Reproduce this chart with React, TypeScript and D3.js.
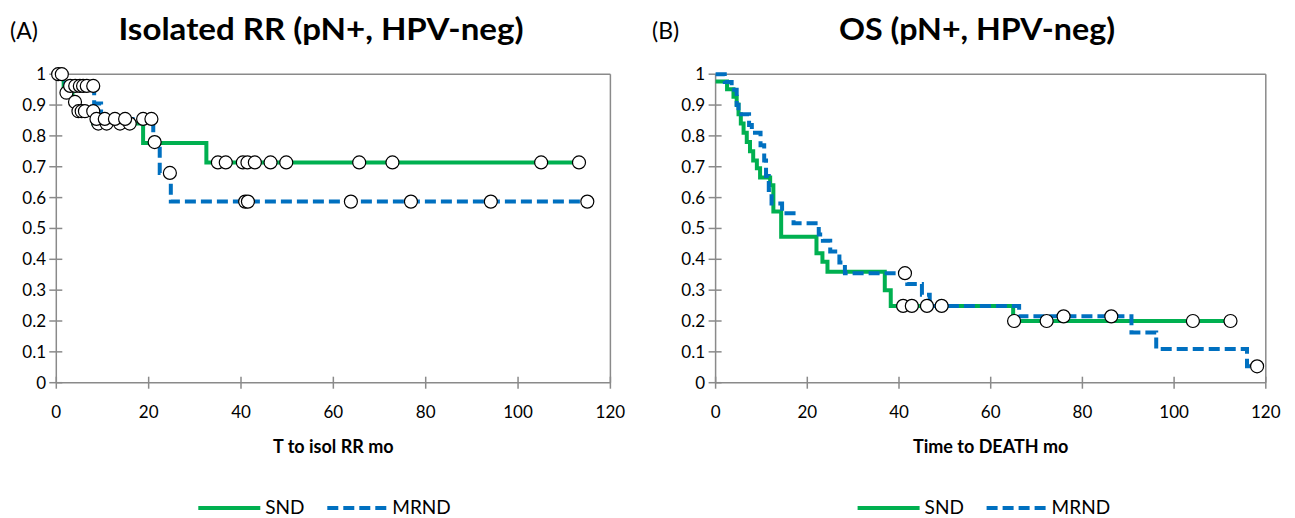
import React from "react";
import * as d3 from "d3";

// ---------- data ----------
const xTicks = [0, 20, 40, 60, 80, 100, 120];
const yTicks = [0, 0.1, 0.2, 0.3, 0.4, 0.5, 0.6, 0.7, 0.8, 0.9, 1];
const yTickLabels = ["0", "0.1", "0.2", "0.3", "0.4", "0.5", "0.6", "0.7", "0.8", "0.9", "1"];
const seriesNames = ["SND", "MRND"];

// Panel A: Isolated RR
const sndA_t = [0, 1.6, 3.5, 4.5, 8.0, 18.8, 32.5];
const sndA_s = [1, 0.94, 0.91, 0.88, 0.84, 0.777, 0.714];
const sndA_end = 113.2;
const sndA_ct = [0.4, 1.2, 2.2, 4.05, 4.8, 5.5, 6.2, 8.0, 9.1, 10.9, 13.8, 15.9, 35.0, 36.7, 40.4, 41.4, 43.0, 46.4, 49.8, 65.6, 72.8, 105.0, 113.2];
const sndA_cs = [1, 1, 0.94, 0.91, 0.88, 0.88, 0.88, 0.88, 0.84, 0.84, 0.84, 0.84, 0.714, 0.714, 0.714, 0.714, 0.714, 0.714, 0.714, 0.714, 0.714, 0.714, 0.714];

const mrndA_t = [0, 2.0, 8.2, 9.7, 21.0, 22.4, 24.8];
const mrndA_s = [1, 0.962, 0.905, 0.855, 0.78, 0.68, 0.587];
const mrndA_end = 115.0;
const mrndA_ct = [3.0, 4.1, 5.1, 5.8, 6.6, 8.0, 8.7, 10.5, 12.7, 14.9, 18.8, 20.6, 21.3, 24.6, 40.9, 41.5, 63.8, 76.8, 94.1, 115.0];
const mrndA_cs = [0.962, 0.962, 0.962, 0.962, 0.962, 0.962, 0.855, 0.855, 0.855, 0.855, 0.855, 0.855, 0.78, 0.68, 0.587, 0.587, 0.587, 0.587, 0.587, 0.587];

// Panel B: OS
const sndB_t = [0, 2.5, 3.9, 4.6, 5.0, 5.5, 6.1, 6.8, 7.5, 8.2, 9.0, 9.7, 11.9, 12.6, 14.3, 22.0, 23.3, 24.4, 36.9, 38.2, 64.9];
const sndB_s = [0.976, 0.951, 0.927, 0.902, 0.87, 0.84, 0.81, 0.78, 0.75, 0.72, 0.695, 0.665, 0.64, 0.555, 0.473, 0.42, 0.392, 0.36, 0.30, 0.249, 0.20];
const sndB_end = 112.3;
const sndB_ct = [40.9, 42.8, 46.1, 65.1, 72.2, 104.1, 112.3];
const sndB_cs = [0.249, 0.249, 0.249, 0.2, 0.2, 0.2, 0.2];

const mrndB_t = [0, 2.0, 3.5, 4.6, 5.0, 7.3, 7.9, 9.8, 10.6, 11.0, 11.6, 12.2, 14.5, 17.0, 22.5, 23.4, 25.0, 27.0, 28.2, 41.8, 45.0, 46.7, 66.2, 90.7, 96.1, 115.9];
const mrndB_s = [1, 0.975, 0.95, 0.9, 0.87, 0.835, 0.81, 0.77, 0.72, 0.67, 0.625, 0.581, 0.549, 0.517, 0.48, 0.46, 0.425, 0.39, 0.355, 0.32, 0.285, 0.249, 0.215, 0.163, 0.109, 0.053];
const mrndB_end = 118.1;
const mrndB_ct = [41.3, 49.3, 75.9, 86.3, 118.1];
const mrndB_cs = [0.355, 0.249, 0.215, 0.215, 0.053];

// ---------- styles ----------
const GREEN = "#00B050";
const BLUE = "#0070C0";
const AXIS = "#8a8a8a";
const FONT = "Lato, 'Open Sans', sans-serif";

const y = d3.scaleLinear().domain([0, 1]).range([382.7, 74.2]);

type Series = { t: number[]; s: number[]; end: number; ct: number[]; cs: number[] };

function kmPath(x: d3.ScaleLinear<number, number>, ser: Series) {
  const pts: [number, number][] = ser.t.map((t, i) => [t, ser.s[i]]);
  pts.push([ser.end, ser.s[ser.s.length - 1]]);
  const line = d3
    .line<[number, number]>()
    .x((d) => x(d[0]))
    .y((d) => y(d[1]))
    .curve(d3.curveStepAfter);
  return line(pts) || "";
}

function Panel(props: {
  x: d3.ScaleLinear<number, number>;
  letter: string;
  letterX: number;
  title: string;
  titleX: number;
  titleLen: number;
  xTitle: string;
  snd: Series;
  mrnd: Series;
  ylabelX: number;
}) {
  const { x, snd, mrnd } = props;
  const [x0, x1] = x.range();
  const yTop = y(1);
  const yBot = y(0);
  const legendBase = x0;
  return (
    <g>
      <text x={props.letterX} y={39} fontFamily={FONT} fontSize={23} fill="#000">
        {props.letter}
      </text>
      <text
        x={props.titleX}
        y={40}
        fontFamily={FONT}
        fontSize={31}
        fontWeight="bold"
        textAnchor="middle"
        fill="#000"
        textLength={props.titleLen}
        lengthAdjust="spacingAndGlyphs"
      >
        {props.title}
      </text>
      {/* plot frame */}
      <line x1={x0} x2={x1} y1={yTop} y2={yTop} stroke={AXIS} strokeWidth={1.5} />
      <line x1={x1} x2={x1} y1={yTop} y2={yBot} stroke={AXIS} strokeWidth={1.5} />
      {/* y axis */}
      <line x1={x0} x2={x0} y1={yTop} y2={yBot} stroke={AXIS} strokeWidth={1.5} />
      {yTicks.map((v, i) => (
        <g key={"y" + i}>
          <line x1={x0 - 7} x2={x0 + 6} y1={y(v)} y2={y(v)} stroke={AXIS} strokeWidth={1.5} />
          <text
            x={props.ylabelX}
            y={y(v) + 6}
            textAnchor="end"
            fontFamily={FONT}
            fontSize={17}
            fill="#000"
          >
            {yTickLabels[i]}
          </text>
        </g>
      ))}
      {/* x axis */}
      <line x1={x0} x2={x1} y1={yBot} y2={yBot} stroke={AXIS} strokeWidth={1.5} />
      {xTicks.map((v) => (
        <g key={"x" + v}>
          <line x1={x(v)} x2={x(v)} y1={yBot - 6} y2={yBot + 6} stroke={AXIS} strokeWidth={1.5} />
          <text x={x(v)} y={418} textAnchor="middle" fontFamily={FONT} fontSize={17} fill="#000">
            {v}
          </text>
        </g>
      ))}
      <text
        x={x(60)}
        y={453}
        textAnchor="middle"
        fontFamily={FONT}
        fontSize={18}
        fontWeight="bold"
        fill="#000"
      >
        {props.xTitle}
      </text>
      {/* lines */}
      <path d={kmPath(x, snd)} fill="none" stroke={GREEN} strokeWidth={4} />
      <path d={kmPath(x, mrnd)} fill="none" stroke={BLUE} strokeWidth={4} strokeDasharray="11 5" />
      {/* censor marks */}
      {snd.ct.map((t, i) => (
        <circle key={"cs" + i} cx={x(t)} cy={y(snd.cs[i])} r={6.5} fill="#fff" stroke="#000" strokeWidth={1.2} />
      ))}
      {mrnd.ct.map((t, i) => (
        <circle key={"cm" + i} cx={x(t)} cy={y(mrnd.cs[i])} r={6.5} fill="#fff" stroke="#000" strokeWidth={1.2} />
      ))}
      {/* legend */}
      <line x1={legendBase + 142} x2={legendBase + 204} y1={508} y2={508} stroke={GREEN} strokeWidth={4} />
      <text x={legendBase + 209} y={514} fontFamily={FONT} fontSize={19} fill="#000">
        {seriesNames[0]}
      </text>
      <line
        x1={legendBase + 271}
        x2={legendBase + 332}
        y1={508}
        y2={508}
        stroke={BLUE}
        strokeWidth={4}
        strokeDasharray="11 5"
      />
      <text x={legendBase + 336} y={514} fontFamily={FONT} fontSize={19} fill="#000">
        {seriesNames[1]}
      </text>
    </g>
  );
}

export default function App() {
  const xA = d3.scaleLinear().domain([0, 120]).range([56.3, 610.4]);
  const xB = d3.scaleLinear().domain([0, 120]).range([715.6, 1265.8]);
  const snd1: Series = { t: sndA_t, s: sndA_s, end: sndA_end, ct: sndA_ct, cs: sndA_cs };
  const mrnd1: Series = { t: mrndA_t, s: mrndA_s, end: mrndA_end, ct: mrndA_ct, cs: mrndA_cs };
  const snd2: Series = { t: sndB_t, s: sndB_s, end: sndB_end, ct: sndB_ct, cs: sndB_cs };
  const mrnd2: Series = { t: mrndB_t, s: mrndB_s, end: mrndB_end, ct: mrndB_ct, cs: mrndB_cs };
  return (
    <svg
      width={1295}
      height={518}
      style={{ position: "absolute", left: 0, top: 0, background: "#fff" }}
    >
      <rect x={0} y={0} width={1295} height={518} fill="#fff" />
      <Panel
        x={xA}
        letter="(A)"
        letterX={10}
        title="Isolated RR (pN+, HPV-neg)"
        titleX={321}
        titleLen={405}
        xTitle="T to isol RR mo"
        snd={snd1}
        mrnd={mrnd1}
        ylabelX={46}
      />
      <Panel
        x={xB}
        letter="(B)"
        letterX={652}
        title="OS (pN+, HPV-neg)"
        titleX={977}
        titleLen={276}
        xTitle="Time to DEATH mo"
        snd={snd2}
        mrnd={mrnd2}
        ylabelX={705}
      />
    </svg>
  );
}
